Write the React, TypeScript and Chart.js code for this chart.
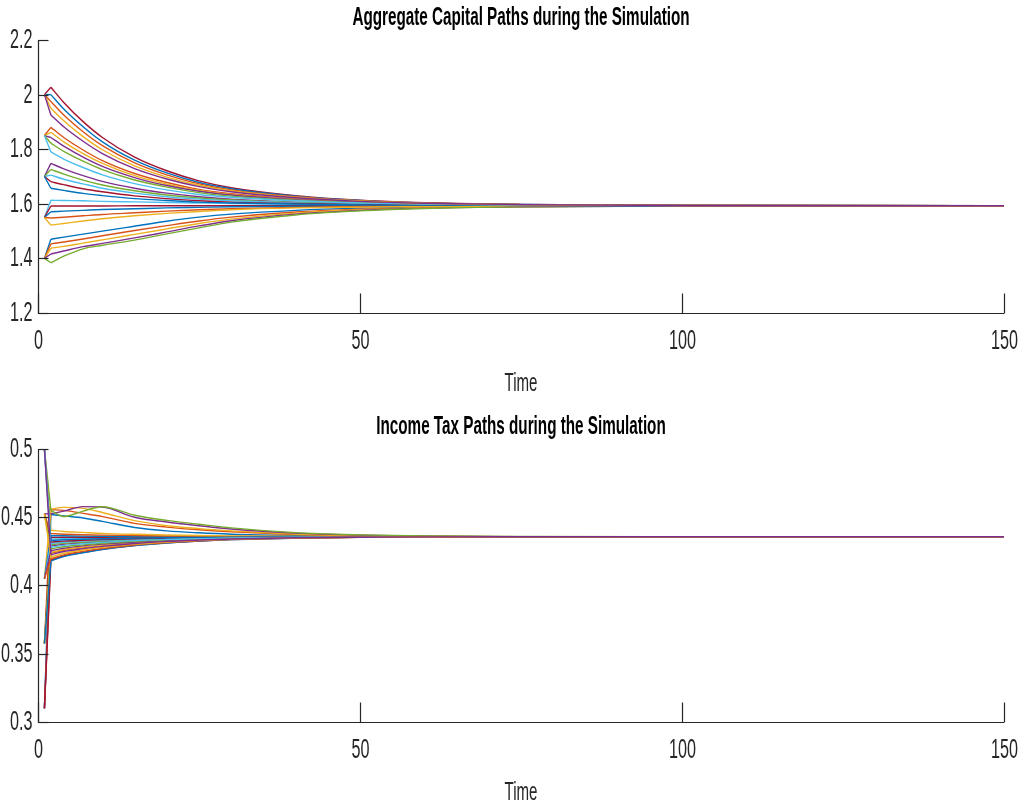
import React, { useEffect, useRef } from 'react';
import { Chart, registerables } from 'chart.js';

Chart.register(...registerables);

// ---------- data ----------
const times = [1, 2, 4, 7, 10, 15, 20, 25, 30, 40, 50, 60, 75, 100, 150];

const xTicks = [0, 50, 100, 150];
const xTickLabels = ['0', '50', '100', '150'];
const capTicks = [1.2, 1.4, 1.6, 1.8, 2, 2.2];
const capTickLabels = ['1.2', '1.4', '1.6', '1.8', '2', '2.2'];
const taxTicks = [0.3, 0.35, 0.4, 0.45, 0.5];
const taxTickLabels = ['0.3', '0.35', '0.4', '0.45', '0.5'];

const capTitle = 'Aggregate Capital Paths during the Simulation';
const taxTitle = 'Income Tax Paths during the Simulation';
const xAxisLabel = 'Time';

// aggregate capital paths (one per simulation)
const k01 = [1.4, 1.470, 1.478, 1.489, 1.500, 1.518, 1.536, 1.551, 1.562, 1.576, 1.584, 1.588, 1.591, 1.593, 1.593];
const k02 = [1.4, 1.453, 1.460, 1.471, 1.483, 1.502, 1.520, 1.537, 1.551, 1.570, 1.580, 1.586, 1.590, 1.593, 1.593];
const k03 = [1.4, 1.437, 1.444, 1.456, 1.468, 1.488, 1.508, 1.528, 1.544, 1.566, 1.578, 1.585, 1.590, 1.593, 1.593];
const k04 = [1.4, 1.416, 1.427, 1.443, 1.455, 1.475, 1.497, 1.519, 1.538, 1.562, 1.576, 1.584, 1.589, 1.592, 1.593];
const k05 = [1.4, 1.384, 1.408, 1.435, 1.448, 1.467, 1.490, 1.512, 1.533, 1.559, 1.574, 1.583, 1.589, 1.592, 1.593];
const k06 = [1.55, 1.613, 1.612, 1.611, 1.609, 1.607, 1.605, 1.603, 1.601, 1.598, 1.596, 1.595, 1.594, 1.593, 1.593];
const k07 = [1.55, 1.592, 1.592, 1.592, 1.592, 1.593, 1.593, 1.593, 1.593, 1.593, 1.593, 1.593, 1.593, 1.593, 1.593];
const k08 = [1.55, 1.571, 1.573, 1.576, 1.579, 1.582, 1.585, 1.587, 1.589, 1.591, 1.592, 1.593, 1.593, 1.593, 1.593];
const k09 = [1.55, 1.548, 1.551, 1.556, 1.561, 1.567, 1.573, 1.578, 1.582, 1.587, 1.590, 1.591, 1.592, 1.593, 1.593];
const k10 = [1.55, 1.522, 1.528, 1.537, 1.545, 1.556, 1.565, 1.572, 1.578, 1.585, 1.588, 1.590, 1.592, 1.593, 1.593];
const k11 = [1.7, 1.748, 1.728, 1.703, 1.682, 1.657, 1.639, 1.626, 1.617, 1.606, 1.600, 1.597, 1.595, 1.593, 1.593];
const k12 = [1.7, 1.726, 1.709, 1.687, 1.669, 1.648, 1.632, 1.621, 1.614, 1.605, 1.599, 1.597, 1.595, 1.593, 1.593];
const k13 = [1.7, 1.705, 1.690, 1.673, 1.657, 1.639, 1.626, 1.617, 1.611, 1.603, 1.599, 1.596, 1.594, 1.593, 1.593];
const k14 = [1.7, 1.681, 1.670, 1.655, 1.644, 1.629, 1.619, 1.611, 1.606, 1.601, 1.598, 1.596, 1.594, 1.593, 1.593];
const k15 = [1.7, 1.657, 1.649, 1.638, 1.630, 1.619, 1.612, 1.606, 1.603, 1.599, 1.596, 1.595, 1.594, 1.593, 1.593];
const k16 = [1.85, 1.880, 1.843, 1.797, 1.758, 1.711, 1.678, 1.653, 1.637, 1.618, 1.607, 1.601, 1.597, 1.594, 1.593];
const k17 = [1.85, 1.862, 1.827, 1.784, 1.748, 1.703, 1.672, 1.649, 1.634, 1.616, 1.606, 1.600, 1.596, 1.594, 1.593];
const k18 = [1.85, 1.843, 1.811, 1.771, 1.737, 1.696, 1.667, 1.646, 1.632, 1.615, 1.605, 1.600, 1.596, 1.594, 1.593];
const k19 = [1.85, 1.822, 1.792, 1.756, 1.725, 1.687, 1.661, 1.641, 1.628, 1.613, 1.604, 1.599, 1.596, 1.594, 1.593];
const k20 = [1.85, 1.790, 1.764, 1.733, 1.706, 1.674, 1.651, 1.634, 1.624, 1.611, 1.603, 1.599, 1.595, 1.594, 1.593];
const k21 = [2.0, 2.027, 1.971, 1.901, 1.843, 1.771, 1.721, 1.684, 1.659, 1.630, 1.613, 1.604, 1.598, 1.594, 1.593];
const k22 = [2.0, 2.000, 1.947, 1.882, 1.827, 1.760, 1.713, 1.678, 1.655, 1.628, 1.612, 1.603, 1.598, 1.594, 1.593];
const k23 = [2.0, 1.975, 1.925, 1.864, 1.813, 1.750, 1.706, 1.673, 1.651, 1.626, 1.611, 1.603, 1.597, 1.594, 1.593];
const k24 = [2.0, 1.950, 1.904, 1.846, 1.798, 1.739, 1.698, 1.668, 1.648, 1.624, 1.610, 1.602, 1.597, 1.594, 1.593];
const k25 = [2.0, 1.925, 1.882, 1.829, 1.784, 1.729, 1.691, 1.663, 1.644, 1.622, 1.609, 1.602, 1.597, 1.594, 1.593];

// income tax paths (same simulations, same order)
const tx01 = [0.31, 0.4520, 0.4510, 0.4495, 0.4470, 0.4425, 0.4400, 0.4386, 0.4376, 0.4366, 0.4361, 0.4359, 0.4358, 0.4357, 0.4357];
const tx02 = [0.3575, 0.4555, 0.4550, 0.4528, 0.4505, 0.4455, 0.4428, 0.4408, 0.4394, 0.4374, 0.4364, 0.4360, 0.4358, 0.4357, 0.4357];
const tx03 = [0.405, 0.4560, 0.4572, 0.4565, 0.4535, 0.4475, 0.4438, 0.4417, 0.4400, 0.4377, 0.4366, 0.4361, 0.4358, 0.4357, 0.4357];
const tx04 = [0.4525, 0.4525, 0.4545, 0.4578, 0.4575, 0.4500, 0.4465, 0.4438, 0.4414, 0.4384, 0.4369, 0.4362, 0.4358, 0.4357, 0.4357];
const tx05 = [0.5, 0.4550, 0.4505, 0.4545, 0.4577, 0.4515, 0.4477, 0.4449, 0.4422, 0.4387, 0.4371, 0.4363, 0.4359, 0.4357, 0.4357];
const tx06 = [0.31, 0.4340, 0.4343, 0.4346, 0.4348, 0.4351, 0.4353, 0.4354, 0.4355, 0.4356, 0.4357, 0.4357, 0.4357, 0.4357, 0.4357];
const tx07 = [0.3575, 0.4352, 0.4353, 0.4354, 0.4354, 0.4355, 0.4356, 0.4356, 0.4357, 0.4357, 0.4357, 0.4357, 0.4357, 0.4357, 0.4357];
const tx08 = [0.405, 0.4365, 0.4364, 0.4362, 0.4361, 0.4360, 0.4359, 0.4358, 0.4358, 0.4357, 0.4357, 0.4357, 0.4357, 0.4357, 0.4357];
const tx09 = [0.4525, 0.4380, 0.4376, 0.4372, 0.4369, 0.4366, 0.4363, 0.4361, 0.4360, 0.4358, 0.4358, 0.4357, 0.4357, 0.4357, 0.4357];
const tx10 = [0.5, 0.4405, 0.4396, 0.4389, 0.4382, 0.4375, 0.4370, 0.4366, 0.4363, 0.4360, 0.4358, 0.4357, 0.4357, 0.4357, 0.4357];
const tx11 = [0.31, 0.4290, 0.4302, 0.4313, 0.4321, 0.4332, 0.4340, 0.4345, 0.4349, 0.4353, 0.4355, 0.4356, 0.4357, 0.4357, 0.4357];
const tx12 = [0.3575, 0.4298, 0.4309, 0.4318, 0.4326, 0.4335, 0.4342, 0.4346, 0.4350, 0.4354, 0.4356, 0.4357, 0.4357, 0.4357, 0.4357];
const tx13 = [0.405, 0.4308, 0.4317, 0.4325, 0.4331, 0.4339, 0.4344, 0.4348, 0.4351, 0.4354, 0.4356, 0.4357, 0.4357, 0.4357, 0.4357];
const tx14 = [0.4525, 0.4318, 0.4325, 0.4331, 0.4336, 0.4343, 0.4347, 0.4350, 0.4352, 0.4355, 0.4356, 0.4357, 0.4357, 0.4357, 0.4357];
const tx15 = [0.5, 0.4330, 0.4335, 0.4339, 0.4343, 0.4347, 0.4350, 0.4352, 0.4354, 0.4356, 0.4357, 0.4357, 0.4357, 0.4357, 0.4357];
const tx16 = [0.31, 0.4235, 0.4257, 0.4276, 0.4292, 0.4312, 0.4325, 0.4335, 0.4342, 0.4350, 0.4354, 0.4356, 0.4357, 0.4357, 0.4357];
const tx17 = [0.3575, 0.4243, 0.4264, 0.4282, 0.4297, 0.4315, 0.4327, 0.4336, 0.4343, 0.4351, 0.4354, 0.4356, 0.4357, 0.4357, 0.4357];
const tx18 = [0.405, 0.4255, 0.4273, 0.4290, 0.4303, 0.4319, 0.4330, 0.4339, 0.4345, 0.4351, 0.4354, 0.4356, 0.4357, 0.4357, 0.4357];
const tx19 = [0.4525, 0.4268, 0.4284, 0.4298, 0.4310, 0.4324, 0.4334, 0.4341, 0.4346, 0.4352, 0.4355, 0.4356, 0.4357, 0.4357, 0.4357];
const tx20 = [0.5, 0.4280, 0.4294, 0.4306, 0.4316, 0.4329, 0.4337, 0.4343, 0.4348, 0.4353, 0.4355, 0.4356, 0.4357, 0.4357, 0.4357];
const tx21 = [0.31, 0.4185, 0.4216, 0.4243, 0.4266, 0.4293, 0.4312, 0.4326, 0.4336, 0.4348, 0.4353, 0.4355, 0.4357, 0.4357, 0.4357];
const tx22 = [0.3575, 0.4180, 0.4212, 0.4240, 0.4263, 0.4292, 0.4311, 0.4325, 0.4336, 0.4347, 0.4353, 0.4355, 0.4357, 0.4357, 0.4357];
const tx23 = [0.405, 0.4195, 0.4224, 0.4250, 0.4271, 0.4297, 0.4315, 0.4328, 0.4338, 0.4348, 0.4353, 0.4355, 0.4357, 0.4357, 0.4357];
const tx24 = [0.4525, 0.4210, 0.4236, 0.4260, 0.4279, 0.4303, 0.4319, 0.4331, 0.4339, 0.4349, 0.4353, 0.4356, 0.4357, 0.4357, 0.4357];
const tx25 = [0.5, 0.4225, 0.4249, 0.4270, 0.4287, 0.4308, 0.4323, 0.4333, 0.4341, 0.4350, 0.4354, 0.4356, 0.4357, 0.4357, 0.4357];

const capitalSeries = [k01, k02, k03, k04, k05, k06, k07, k08, k09, k10, k11, k12, k13, k14, k15, k16, k17, k18, k19, k20, k21, k22, k23, k24, k25];
const taxSeries = [tx01, tx02, tx03, tx04, tx05, tx06, tx07, tx08, tx09, tx10, tx11, tx12, tx13, tx14, tx15, tx16, tx17, tx18, tx19, tx20, tx21, tx22, tx23, tx24, tx25];

// MATLAB default colour order
const lineColors = ['#0072BD', '#D95319', '#EDB120', '#7E2F8E', '#77AC30', '#4DBEEE', '#A2142F'];

// ---------- styling ----------
const AXIS_COLOR = '#262626';
const FONT_FAMILY = '"Liberation Sans", Arial, Helvetica, sans-serif';
const TICK_FONT = `27px ${FONT_FAMILY}`;
const LABEL_FONT = `26px ${FONT_FAMILY}`;
const TITLE_FONT = `bold 25px ${FONT_FAMILY}`;
const TICK_SX = 0.6;
const LABEL_SX = 0.58;
const TITLE_SX = 0.61;
const LINE_WIDTH = 1.4;

function squash(ctx: CanvasRenderingContext2D, text: string, x: number, y: number, align: CanvasTextAlign, font: string, sx: number, color: string) {
  ctx.save();
  ctx.translate(x, y);
  ctx.scale(sx, 1);
  ctx.font = font;
  ctx.fillStyle = color;
  ctx.textAlign = align;
  ctx.textBaseline = 'middle';
  ctx.fillText(text, 0, 0);
  ctx.restore();
}

type AxesCfg = {
  title: string;
  xLabel: string;
  xTicks: number[];
  xTickLabels: string[];
  yTicks: number[];
  yTickLabels: string[];
};

function makeAxesPlugin(cfg: AxesCfg) {
  return {
    id: 'matlabAxes',
    afterDatasetsDraw(chart: any) {
      const { ctx, chartArea: a, scales } = chart;
      const xs = scales.x;
      const ys = scales.y;
      ctx.save();
      ctx.strokeStyle = AXIS_COLOR;
      ctx.lineWidth = 1.2;
      const L = Math.round(a.left) + 0.5;
      const B = Math.round(a.bottom) + 0.5;
      ctx.beginPath();
      ctx.moveTo(L, a.top);
      ctx.lineTo(L, B);
      ctx.lineTo(a.right, B);
      ctx.stroke();
      cfg.yTicks.forEach((v, i) => {
        const py = Math.round(ys.getPixelForValue(v)) + 0.5;
        ctx.beginPath();
        ctx.moveTo(L, py);
        ctx.lineTo(L + 10, py);
        ctx.stroke();
        squash(ctx, cfg.yTickLabels[i], L - 6, py, 'right', TICK_FONT, TICK_SX, AXIS_COLOR);
      });
      cfg.xTicks.forEach((v, i) => {
        const px = Math.round(xs.getPixelForValue(v)) + 0.5;
        ctx.beginPath();
        ctx.moveTo(px, B);
        ctx.lineTo(px, B - 20);
        ctx.stroke();
        squash(ctx, cfg.xTickLabels[i], px, B + 28, 'center', TICK_FONT, TICK_SX, AXIS_COLOR);
      });
      const cx = (a.left + a.right) / 2;
      squash(ctx, cfg.xLabel, cx, B + 70, 'center', LABEL_FONT, LABEL_SX, AXIS_COLOR);
      squash(ctx, cfg.title, cx, a.top - 22, 'center', TITLE_FONT, TITLE_SX, '#000000');
      ctx.restore();
    },
  };
}

function buildDatasets(series: number[][]) {
  const ds: any[] = [];
  series.forEach((vals, n) => {
    const color = lineColors[n % lineColors.length];
    const pts = times.map((t, i) => ({ x: t, y: vals[i] }));
    ds.push({
      data: pts.slice(0, 2),
      borderColor: color,
      borderWidth: LINE_WIDTH,
      pointRadius: 0,
      tension: 0,
      fill: false,
      order: 100 - n,
    });
    ds.push({
      data: pts.slice(1),
      borderColor: color,
      borderWidth: LINE_WIDTH,
      pointRadius: 0,
      cubicInterpolationMode: 'monotone',
      fill: false,
      order: 100 - n,
    });
  });
  return ds;
}

function makeConfig(series: number[][], yMin: number, yMax: number, yTicks: number[], yTickLabels: string[], title: string, padTop: number, xHeight: number) {
  return {
    type: 'line' as const,
    data: { datasets: buildDatasets(series) },
    options: {
      animation: false,
      responsive: false,
      maintainAspectRatio: false,
      events: [],
      layout: { padding: { top: padTop, right: 17, left: 0, bottom: 0 } },
      plugins: {
        legend: { display: false },
        tooltip: { enabled: false },
        title: { display: false },
      },
      scales: {
        x: {
          type: 'linear',
          min: 0,
          max: 150,
          grid: { display: false },
          border: { display: false },
          ticks: { display: false },
          afterBuildTicks: (s: any) => { s.ticks = xTicks.map((v) => ({ value: v })); },
          afterFit: (s: any) => { s.height = xHeight; },
        },
        y: {
          type: 'linear',
          min: yMin,
          max: yMax,
          grid: { display: false },
          border: { display: false },
          ticks: { display: false },
          afterBuildTicks: (s: any) => { s.ticks = yTicks.map((v) => ({ value: v })); },
          afterFit: (s: any) => { s.width = 38; },
        },
      },
    },
    plugins: [makeAxesPlugin({ title, xLabel: xAxisLabel, xTicks, xTickLabels, yTicks, yTickLabels })],
  };
}

export default function App() {
  const topRef = useRef<HTMLCanvasElement | null>(null);
  const botRef = useRef<HTMLCanvasElement | null>(null);

  useEffect(() => {
    const c1 = new Chart(topRef.current as HTMLCanvasElement, makeConfig(capitalSeries, 1.2, 2.2, capTicks, capTickLabels, capTitle, 40, 92) as any);
    const c2 = new Chart(botRef.current as HTMLCanvasElement, makeConfig(taxSeries, 0.3, 0.5, taxTicks, taxTickLabels, taxTitle, 44, 88) as any);
    return () => {
      c1.destroy();
      c2.destroy();
    };
  }, []);

  return (
    <div style={{ position: 'absolute', left: 0, top: 0, width: 1021, height: 810, background: '#ffffff' }}>
      <canvas ref={topRef} width={1021} height={405} style={{ position: 'absolute', left: 0, top: 0, width: 1021, height: 405 }} />
      <canvas ref={botRef} width={1021} height={405} style={{ position: 'absolute', left: 0, top: 405, width: 1021, height: 405 }} />
    </div>
  );
}
